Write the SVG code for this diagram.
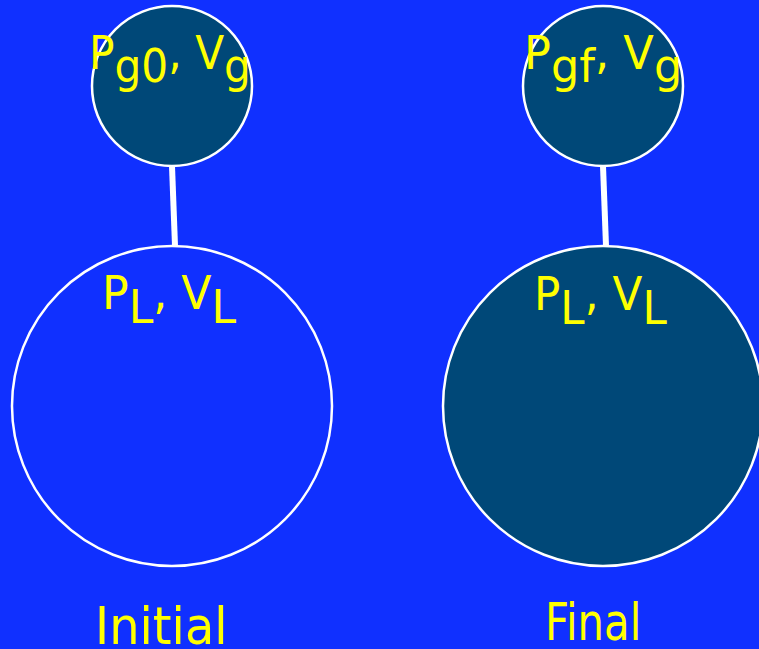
<svg xmlns="http://www.w3.org/2000/svg" width="759" height="649" viewBox="0 0 759 649">
<style>
.node{fill:#004878;stroke:#ffffff;stroke-width:2.5}
.empty{fill:none;stroke:#ffffff;stroke-width:2.5}
.lbl{fill:#ffff00;font-family:"DejaVu Sans","Liberation Sans",sans-serif;font-size:47px}
.cap{fill:#ffff00;font-family:"DejaVu Sans","Liberation Sans",sans-serif;font-size:51px}
.conn{stroke:#ffffff;stroke-width:6;fill:none}
</style>
<rect width="759" height="649" fill="#1030ff"/>
<g id="connectors">
<line class="conn" x1="172" y1="166" x2="175" y2="246"/>
<line class="conn" x1="603" y1="166" x2="606" y2="246"/>
</g>
<g id="gas-initial">
<circle class="node" cx="172" cy="86" r="80"/>
<text class="lbl" transform="translate(89,69) scale(0.9,1)">P<tspan dy="13">g0</tspan><tspan dy="-13">, V</tspan><tspan dy="13">g</tspan></text>
</g>
<g id="liquid-initial">
<circle class="empty" cx="172" cy="406" r="160"/>
<text class="lbl" transform="translate(102,309) scale(0.94,1)">P<tspan dy="14">L</tspan><tspan dy="-14">, V</tspan><tspan dy="14">L</tspan></text>
</g>
<g id="gas-final">
<circle class="node" cx="603" cy="86" r="80"/>
<text class="lbl" transform="translate(524,69) scale(0.95,1)">P<tspan dy="13">gf</tspan><tspan dy="-13">, V</tspan><tspan dy="13">g</tspan></text>
</g>
<g id="liquid-final">
<circle class="node" cx="603" cy="406" r="160"/>
<text class="lbl" transform="translate(534,310) scale(0.93,1)">P<tspan dy="14">L</tspan><tspan dy="-14">, V</tspan><tspan dy="14">L</tspan></text>
</g>
<text class="cap" transform="translate(95,644) scale(0.94,1)">Initial</text>
<text class="cap" transform="translate(545,640) scale(0.82,1)">Final</text>
</svg>
